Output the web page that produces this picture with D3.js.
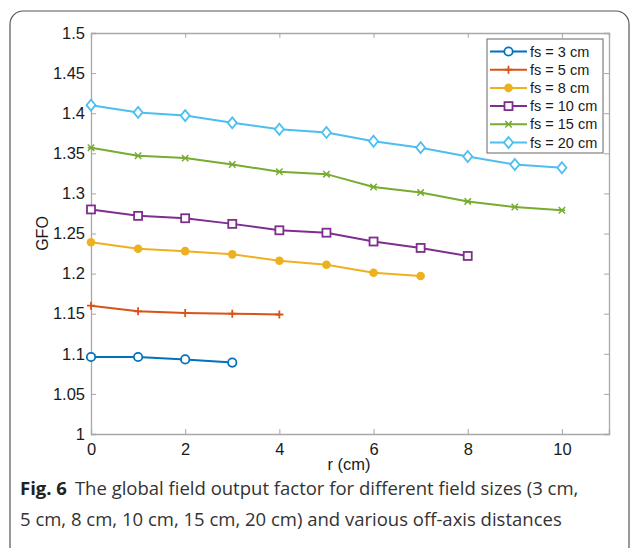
<!DOCTYPE html>
<html lang="en">
<head>
<meta charset="UTF-8">
<title>GFO vs off-axis distance</title>
<script src="https://d3js.org/d3.v7.min.js"></script>
<style>
  body { margin: 0; background: #fff; }
  svg { display: block; }
</style>
</head>
<body>
<div id="chart"></div>
<script>
// data
const rVals = [0, 1, 2, 3, 4, 5, 6, 7, 8, 9, 10];
const fieldSizes = ["fs = 3 cm", "fs = 5 cm", "fs = 8 cm", "fs = 10 cm", "fs = 15 cm", "fs = 20 cm"];
const gfo3  = [1.096, 1.096, 1.093, 1.089];
const gfo5  = [1.160, 1.153, 1.151, 1.150, 1.149];
const gfo8  = [1.239, 1.231, 1.228, 1.224, 1.216, 1.211, 1.201, 1.197];
const gfo10 = [1.280, 1.272, 1.269, 1.262, 1.254, 1.251, 1.240, 1.232, 1.222];
const gfo15 = [1.357, 1.347, 1.344, 1.336, 1.327, 1.324, 1.308, 1.301, 1.290, 1.283, 1.279];
const gfo20 = [1.410, 1.401, 1.397, 1.388, 1.380, 1.376, 1.365, 1.357, 1.346, 1.336, 1.332];
const yTicks = [1, 1.05, 1.1, 1.15, 1.2, 1.25, 1.3, 1.35, 1.4, 1.45, 1.5];
const xTicks = [0, 2, 4, 6, 8, 10];

const colors = ["#0072BD", "#D95319", "#EDB120", "#7E2F8E", "#77AC30", "#4DBEEE"];
const markers = ["circle", "plus", "dot", "square", "star", "diamond"];

const series = [gfo3, gfo5, gfo8, gfo10, gfo15, gfo20].map((vals, i) => ({
    name: fieldSizes[i],
    color: colors[i],
    marker: markers[i],
    points: vals.map((v, j) => ({ r: rVals[j], g: v }))
}));

const W = 630, H = 548;
const plotL = 91, plotR = 609, plotT = 33, plotB = 434;

const svg = d3.select("#chart").append("svg")
    .attr("width", W)
    .attr("height", H);

// rounded frame of the figure panel
svg.append("rect")
    .attr("x", 10).attr("y", 11)
    .attr("width", 619).attr("height", 548)
    .attr("rx", 13)
    .attr("fill", "none")
    .attr("stroke", "#555")
    .attr("stroke-width", 1.2);

const x = d3.scaleLinear().domain([0, 11]).range([plotL, plotR]);
const y = d3.scaleLinear().domain([1, 1.5]).range([plotB, plotT]);

const axisColor = "#a8a8a8";
const fontAx = "'Liberation Sans', Arial, sans-serif";

// axes (ticks inward like MATLAB)
const gx = svg.append("g").attr("transform", `translate(0,${plotB})`)
    .call(d3.axisBottom(x).tickValues(xTicks).tickSize(-5).tickPadding(9).tickFormat(d3.format("d")));
const gxTop = svg.append("g").attr("transform", `translate(0,${plotT})`)
    .call(d3.axisTop(x).tickValues(xTicks).tickSize(-5).tickFormat(""));
const gy = svg.append("g").attr("transform", `translate(${plotL},0)`)
    .call(d3.axisLeft(y).tickValues(yTicks).tickSize(-5).tickPadding(6).tickFormat(d => String(+d.toFixed(2))));
const gyRight = svg.append("g").attr("transform", `translate(${plotR},0)`)
    .call(d3.axisRight(y).tickValues(yTicks).tickSize(-5).tickFormat(""));

[gx, gxTop, gy, gyRight].forEach(g => {
    g.attr("font-size", null);
    g.select(".domain").attr("stroke", axisColor).attr("stroke-width", 1.3);
    g.selectAll(".tick line").attr("stroke", axisColor).attr("stroke-width", 1);
    g.selectAll(".tick text")
        .attr("fill", "#1a1a1a")
        .attr("font-family", fontAx)
        .attr("font-size", 16.5);
});

// axis titles
svg.append("text")
    .attr("x", (plotL + plotR) / 2 - 1)
    .attr("y", 470)
    .attr("text-anchor", "middle")
    .attr("fill", "#1a1a1a")
    .attr("font-family", fontAx)
    .attr("font-size", 16.5)
    .text("r (cm)");

svg.append("text")
    .attr("transform", `translate(48,${(plotT + plotB) / 2}) rotate(-90)`)
    .attr("text-anchor", "middle")
    .attr("fill", "#1a1a1a")
    .attr("font-family", fontAx)
    .attr("font-size", 16)
    .text("GFO");

// marker drawing
function drawMarker(g, type, color) {
    const s = 4;
    if (type === "circle") {
        g.append("circle").attr("r", 4.2).attr("fill", "white").attr("stroke", color).attr("stroke-width", 1.8);
    } else if (type === "plus") {
        g.append("path").attr("d", `M${-s},0H${s}M0,${-s}V${s}`).attr("stroke", color).attr("stroke-width", 1.8);
    } else if (type === "dot") {
        g.append("circle").attr("r", 4.3).attr("fill", color);
    } else if (type === "square") {
        g.append("rect").attr("x", -4).attr("y", -4).attr("width", 8).attr("height", 8)
            .attr("fill", "white").attr("stroke", color).attr("stroke-width", 1.8);
    } else if (type === "star") {
        const a = 3.2;
        g.append("path").attr("d", `M${-a},${-a}L${a},${a}M${-a},${a}L${a},${-a}M${-a},0H${a}`)
            .attr("stroke", color).attr("stroke-width", 1.5);
    } else if (type === "diamond") {
        g.append("path").attr("d", "M0,-5.5L4.5,0L0,5.5L-4.5,0Z")
            .attr("fill", "white").attr("stroke", color).attr("stroke-width", 1.8);
    }
}

const line = d3.line().x(d => x(d.r)).y(d => y(d.g));

const plot = svg.append("g");
series.forEach(s => {
    plot.append("path")
        .datum(s.points)
        .attr("d", line)
        .attr("fill", "none")
        .attr("stroke", s.color)
        .attr("stroke-width", 2);
    plot.selectAll(null)
        .data(s.points)
        .enter()
        .append("g")
        .attr("transform", d => `translate(${x(d.r)},${y(d.g)})`)
        .each(function () { drawMarker(d3.select(this), s.marker, s.color); });
});

// legend
const lg = svg.append("g");
lg.append("rect")
    .attr("x", 487).attr("y", 39)
    .attr("width", 116).attr("height", 114)
    .attr("fill", "white")
    .attr("stroke", "#666")
    .attr("stroke-width", 1);

series.forEach((s, i) => {
    const cy = 51.5 + i * 18.2;
    lg.append("line")
        .attr("x1", 490).attr("x2", 527)
        .attr("y1", cy).attr("y2", cy)
        .attr("stroke", s.color).attr("stroke-width", 2);
    const m = lg.append("g").attr("transform", `translate(508.5,${cy})`);
    drawMarker(m, s.marker, s.color);
    lg.append("text")
        .attr("x", 530).attr("y", cy)
        .attr("dy", "0.35em")
        .attr("fill", "#1a1a1a")
        .attr("font-family", fontAx)
        .attr("font-size", 14.5)
        .text(s.name);
});

// caption
const capFont = "'Open Sans', sans-serif";
const cap = svg.append("text")
    .attr("x", 20).attr("y", 495)
    .attr("fill", "#333")
    .attr("font-family", capFont)
    .attr("font-size", 18.5);
cap.append("tspan").attr("font-weight", "bold").attr("fill", "#222").text("Fig. 6");
cap.append("tspan").attr("dx", 8).text("The global field output factor for different field sizes (3 cm,");

svg.append("text")
    .attr("x", 20).attr("y", 526)
    .attr("fill", "#333")
    .attr("font-family", capFont)
    .attr("font-size", 18.5)
    .text("5 cm, 8 cm, 10 cm, 15 cm, 20 cm) and various off-axis distances");
</script>
</body>
</html>
